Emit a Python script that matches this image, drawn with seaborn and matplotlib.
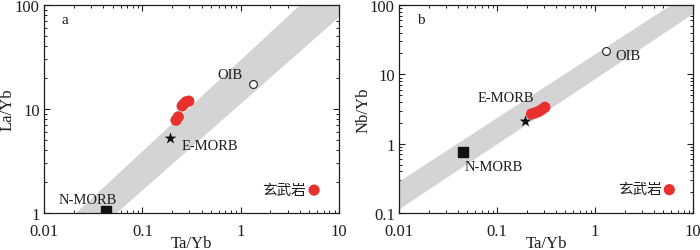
import matplotlib
matplotlib.use("Agg")
import matplotlib.pyplot as plt
import seaborn as sns
import pandas as pd
from matplotlib.ticker import LogLocator, NullFormatter, FixedLocator, FixedFormatter

sns.set_style("ticks")
FAM = ['Liberation Serif', 'Noto Sans CJK SC']
plt.rcParams['font.family'] = FAM
plt.rcParams['font.size'] = 10

RED = '#e8312c'
BAND = '#d4d4d4'

# ---- Panel a data: Ta/Yb vs La/Yb ----
a_ta = [0.297, 0.278, 0.254, 0.265, 0.232, 0.220]
a_la = [11.9, 11.7, 10.7, 11.2, 8.4, 7.8]
a_nmorb = (0.0428, 1.05)
a_emorb = (0.191, 5.23)
a_oib = (1.32, 17.4)
a_band_x = [0.0212, 4.02, 10, 10, 0.0549]
a_band_y = [1, 100, 100, 76.2, 1]

# ---- Panel b data: Ta/Yb vs Nb/Yb ----
b_ta = [0.225, 0.243, 0.263, 0.285, 0.308]
b_nb = [2.68, 2.77, 2.89, 3.09, 3.35]
b_nmorb = (0.0446, 0.75)
b_emorb = (0.195, 2.15)
b_oib = (1.29, 21.9)
b_band_x = [0.01, 6.0, 10, 10, 0.01]
b_band_y = [0.282, 100, 100, 74, 0.112]

legend_label = '玄武岩'

fig = plt.figure(figsize=(7, 2.51), dpi=100)
axa = fig.add_axes([44/700, 37/251, 295/700, 208/251])
axb = fig.add_axes([399/700, 37/251, 294/700, 208/251])

INK = '#1e1e1e'


def style(ax, ylim, yticks, yticklabels, ylabel, letter):
    ax.set_xscale('log')
    ax.set_yscale('log')
    ax.set_xlim(0.01, 10)
    ax.set_ylim(*ylim)
    ax.xaxis.set_major_locator(FixedLocator([0.01, 0.1, 1, 10]))
    ax.xaxis.set_major_formatter(FixedFormatter(['0.01', '0.1', '1', '10']))
    ax.yaxis.set_major_locator(FixedLocator(yticks))
    ax.yaxis.set_major_formatter(FixedFormatter(yticklabels))
    ax.xaxis.set_minor_locator(LogLocator(base=10, subs=range(2, 10)))
    ax.yaxis.set_minor_locator(LogLocator(base=10, subs=range(2, 10)))
    ax.xaxis.set_minor_formatter(NullFormatter())
    ax.yaxis.set_minor_formatter(NullFormatter())
    ax.tick_params(which='both', direction='in', top=True, right=True,
                   color=INK, labelsize=12, labelcolor=INK)
    ax.tick_params(which='major', length=4, width=0.8)
    ax.tick_params(axis='x', which='major', pad=7)
    ax.tick_params(axis='y', which='major', pad=3)
    ax.tick_params(which='minor', length=2.5, width=0.7)
    for s in ax.spines.values():
        s.set_linewidth(0.9)
        s.set_color(INK)
    ax.set_xlabel('Ta/Yb', fontsize=12, color=INK, va='center')
    ax.set_ylabel(ylabel, fontsize=12, color=INK, va='center')
    ax.xaxis.set_label_coords(0.5, -0.145)
    ax.yaxis.set_label_coords(-0.122, 0.5)
    ax.text(0.06, 0.93, letter, transform=ax.transAxes, fontsize=11,
            ha='left', va='center', color=INK)


def draw(ax, bx, by, ta, yv, nm, em, oi):
    ax.fill(bx, by, color=BAND, lw=0, zorder=1)
    df = pd.DataFrame({'x': ta, 'y': yv})
    sns.scatterplot(data=df, x='x', y='y', ax=ax, color=RED, s=65,
                    edgecolor='none', zorder=4, legend=False)
    ax.scatter([nm[0]], [nm[1]], marker='s', s=55, color='#111111', zorder=5)
    ax.scatter([em[0]], [em[1]], marker='*', s=80, color='#111111', zorder=5, lw=0)
    ax.scatter([oi[0]], [oi[1]], marker='o', s=32, facecolor='white',
               edgecolor=INK, linewidth=0.8, zorder=5)


draw(axa, a_band_x, a_band_y, a_ta, a_la, a_nmorb, a_emorb, a_oib)
style(axa, (1, 100), [1, 10, 100], ['1', '10', '100'], 'La/Yb', 'a')
tk = dict(fontsize=10.5, color=INK, va='center')
axa.text(0.0281, 1.36, 'N-MORB', ha='center', **tk)
axa.text(0.2535, 4.41, 'E-MORB', ha='left', **tk)
axa.text(1.057, 21.7, 'OIB', ha='right', **tk)
axa.scatter([5.58], [1.66], s=65, color=RED, edgecolor='none', zorder=5)
axa.text(4.62, 1.66, legend_label, ha='right', **tk)

draw(axb, b_band_x, b_band_y, b_ta, b_nb, b_nmorb, b_emorb, b_oib)
style(axb, (0.1, 100), [0.1, 1, 10, 100], ['0.1', '1', '10', '100'], 'Nb/Yb', 'b')
axb.text(0.0471, 0.476, 'N-MORB', ha='left', **tk)
axb.text(0.1236, 4.56, 'E-MORB', ha='center', **tk)
axb.text(1.60, 18.4, 'OIB', ha='left', **tk)
axb.scatter([5.73], [0.217], s=65, color=RED, edgecolor='none', zorder=5)
axb.text(4.80, 0.218, legend_label, ha='right', **tk)

fig.savefig('out.png', dpi=100)
